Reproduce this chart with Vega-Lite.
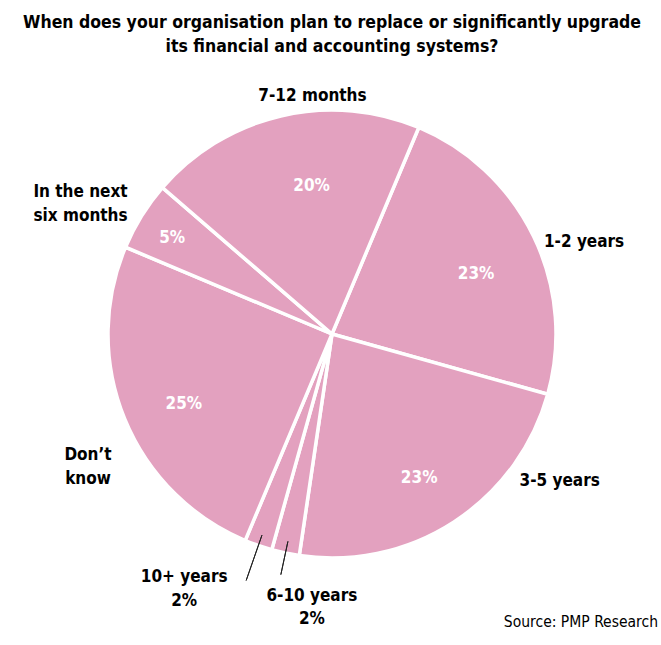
{
  "$schema": "https://vega.github.io/schema/vega-lite/v6.json",
  "width": 658,
  "height": 668,
  "autosize": "none",
  "padding": {"left": 3, "top": 0, "right": 0, "bottom": 0},
  "background": "white",
  "config": {"view": {"stroke": null}, "font": "DejaVu Sans Condensed"},
  "title": {
    "text": ["When does your organisation plan to replace or significantly upgrade", "its financial and accounting systems?"],
    "fontSize": 17.5, "fontWeight": "bold", "font": "DejaVu Sans Condensed", "color": "black",
    "anchor": "middle", "frame": "group", "offset": -55, "lineHeight": 24
  },
  "data": {"values": [
    {"cat": "1-2 years", "value": 23, "order": 1, "label": "1-2 years", "pct": "23%"},
    {"cat": "3-5 years", "value": 23, "order": 2, "label": "3-5 years", "pct": "23%"},
    {"cat": "6-10 years", "value": 2, "order": 3, "label": "6-10 years\n2%", "pct": "2%"},
    {"cat": "10+ years", "value": 2, "order": 4, "label": "10+ years\n2%", "pct": "2%"},
    {"cat": "Don't know", "value": 25, "order": 5, "label": "Don’t\nknow", "pct": "25%"},
    {"cat": "In the next six months", "value": 5, "order": 6, "label": "In the next\nsix months", "pct": "5%"},
    {"cat": "7-12 months", "value": 20, "order": 7, "label": "7-12 months", "pct": "20%"}
  ]},
  "transform": [
    {"stack": "value", "sort": [{"field": "order", "order": "ascending"}], "as": ["v0", "v1"]},
    {"calculate": "(datum.v0 + datum.v1) / 2", "as": "mid"}
  ],
  "layer": [
    {
      "mark": {"type": "arc", "radius": 224, "fill": "#e3a1bf", "stroke": "white", "strokeWidth": 3.5},
      "encoding": {
        "theta": {"field": "v0", "type": "quantitative", "stack": null, "scale": {"domain": [0, 100], "range": [0.398, 6.681]}},
        "theta2": {"field": "v1"}
      }
    },
    {
      "transform": [{"filter": "datum.order == 4"}],
      "mark": {"type": "arc", "radius": 261, "radius2": 213, "fillOpacity": 0, "stroke": "#222", "strokeWidth": 1},
      "encoding": {
        "theta": {"field": "mid", "type": "quantitative", "stack": null, "scale": {"domain": [0, 100], "range": [0.398, 6.681]}},
        "theta2": {"field": "mid"}
      }
    },
    {
      "transform": [{"filter": "datum.order == 3"}],
      "mark": {"type": "arc", "radius": 246, "radius2": 212, "fillOpacity": 0, "stroke": "#222", "strokeWidth": 1},
      "encoding": {
        "theta": {"field": "mid", "type": "quantitative", "stack": null, "scale": {"domain": [0, 100], "range": [0.398, 6.681]}},
        "theta2": {"field": "mid"}
      }
    },
    {
      "transform": [{"filter": "datum.order == 1 || datum.order == 2 || datum.order == 5"}],
      "mark": {"type": "text", "radius": 160, "dy": 10, "fill": "white", "fontSize": 17, "fontWeight": "bold", "font": "DejaVu Sans Condensed", "align": "center", "baseline": "middle"},
      "encoding": {
        "theta": {"field": "mid", "type": "quantitative", "stack": null, "scale": {"domain": [0, 100], "range": [0.398, 6.681]}},
        "text": {"field": "pct"}
      }
    },
    {
      "transform": [{"filter": "datum.order == 7"}],
      "mark": {"type": "text", "radius": 155, "dx": 15, "dy": 3, "fill": "white", "fontSize": 17, "fontWeight": "bold", "font": "DejaVu Sans Condensed", "align": "center", "baseline": "middle"},
      "encoding": {
        "theta": {"field": "mid", "type": "quantitative", "stack": null, "scale": {"domain": [0, 100], "range": [0.398, 6.681]}},
        "text": {"field": "pct"}
      }
    },
    {
      "transform": [{"filter": "datum.order == 6"}],
      "mark": {"type": "text", "radius": 188, "dy": 3, "fill": "white", "fontSize": 17, "fontWeight": "bold", "font": "DejaVu Sans Condensed", "align": "center", "baseline": "middle"},
      "encoding": {
        "theta": {"field": "mid", "type": "quantitative", "stack": null, "scale": {"domain": [0, 100], "range": [0.398, 6.681]}},
        "text": {"field": "pct"}
      }
    },
    {
      "transform": [{"filter": "datum.order == 7"}],
      "mark": {"type": "text", "radius": 243, "dx": 36, "dy": -1, "fill": "black", "fontSize": 17, "fontWeight": "bold", "font": "DejaVu Sans Condensed", "align": "center", "baseline": "middle", "lineBreak": "\n", "lineHeight": 24},
      "encoding": {
        "theta": {"field": "mid", "type": "quantitative", "stack": null, "scale": {"domain": [0, 100], "range": [0.398, 6.681]}},
        "text": {"field": "label"}
      }
    },
    {
      "transform": [{"filter": "datum.order == 1"}],
      "mark": {"type": "text", "radius": 260, "dx": 18, "dy": 21, "fill": "black", "fontSize": 17, "fontWeight": "bold", "font": "DejaVu Sans Condensed", "align": "center", "baseline": "middle", "lineBreak": "\n", "lineHeight": 24},
      "encoding": {
        "theta": {"field": "mid", "type": "quantitative", "stack": null, "scale": {"domain": [0, 100], "range": [0.398, 6.681]}},
        "text": {"field": "label"}
      }
    },
    {
      "transform": [{"filter": "datum.order == 2"}],
      "mark": {"type": "text", "radius": 240, "dx": 97, "dy": -54, "fill": "black", "fontSize": 17, "fontWeight": "bold", "font": "DejaVu Sans Condensed", "align": "center", "baseline": "middle", "lineBreak": "\n", "lineHeight": 24},
      "encoding": {
        "theta": {"field": "mid", "type": "quantitative", "stack": null, "scale": {"domain": [0, 100], "range": [0.398, 6.681]}},
        "text": {"field": "label"}
      }
    },
    {
      "transform": [{"filter": "datum.order == 3"}],
      "mark": {"type": "text", "radius": 270, "dx": 36, "dy": -2, "fill": "black", "fontSize": 17, "fontWeight": "bold", "font": "DejaVu Sans Condensed", "align": "center", "baseline": "middle", "lineBreak": "\n", "lineHeight": 23},
      "encoding": {
        "theta": {"field": "mid", "type": "quantitative", "stack": null, "scale": {"domain": [0, 100], "range": [0.398, 6.681]}},
        "text": {"field": "label"}
      }
    },
    {
      "transform": [{"filter": "datum.order == 4"}],
      "mark": {"type": "text", "radius": 270, "dx": -59, "dy": -12, "fill": "black", "fontSize": 17, "fontWeight": "bold", "font": "DejaVu Sans Condensed", "align": "center", "baseline": "middle", "lineBreak": "\n", "lineHeight": 24},
      "encoding": {
        "theta": {"field": "mid", "type": "quantitative", "stack": null, "scale": {"domain": [0, 100], "range": [0.398, 6.681]}},
        "text": {"field": "label"}
      }
    },
    {
      "transform": [{"filter": "datum.order == 5"}],
      "mark": {"type": "text", "radius": 270, "dx": 6, "dy": 19, "fill": "black", "fontSize": 17, "fontWeight": "bold", "font": "DejaVu Sans Condensed", "align": "center", "baseline": "middle", "lineBreak": "\n", "lineHeight": 24},
      "encoding": {
        "theta": {"field": "mid", "type": "quantitative", "stack": null, "scale": {"domain": [0, 100], "range": [0.398, 6.681]}},
        "text": {"field": "label"}
      }
    },
    {
      "transform": [{"filter": "datum.order == 6"}],
      "mark": {"type": "text", "radius": 290, "dx": -5, "dy": 11, "fill": "black", "fontSize": 17, "fontWeight": "bold", "font": "DejaVu Sans Condensed", "align": "center", "baseline": "middle", "lineBreak": "\n", "lineHeight": 24},
      "encoding": {
        "theta": {"field": "mid", "type": "quantitative", "stack": null, "scale": {"domain": [0, 100], "range": [0.398, 6.681]}},
        "text": {"field": "label"}
      }
    },
    {
      "transform": [{"filter": "datum.order == 1"}],
      "mark": {"type": "text", "align": "right", "baseline": "middle", "x": {"expr": "width - 3"}, "y": {"expr": "height - 46"}, "fontSize": 15.5, "font": "DejaVu Sans Condensed", "fill": "black"},
      "encoding": {"text": {"value": "Source: PMP Research"}}
    }
  ]
}
